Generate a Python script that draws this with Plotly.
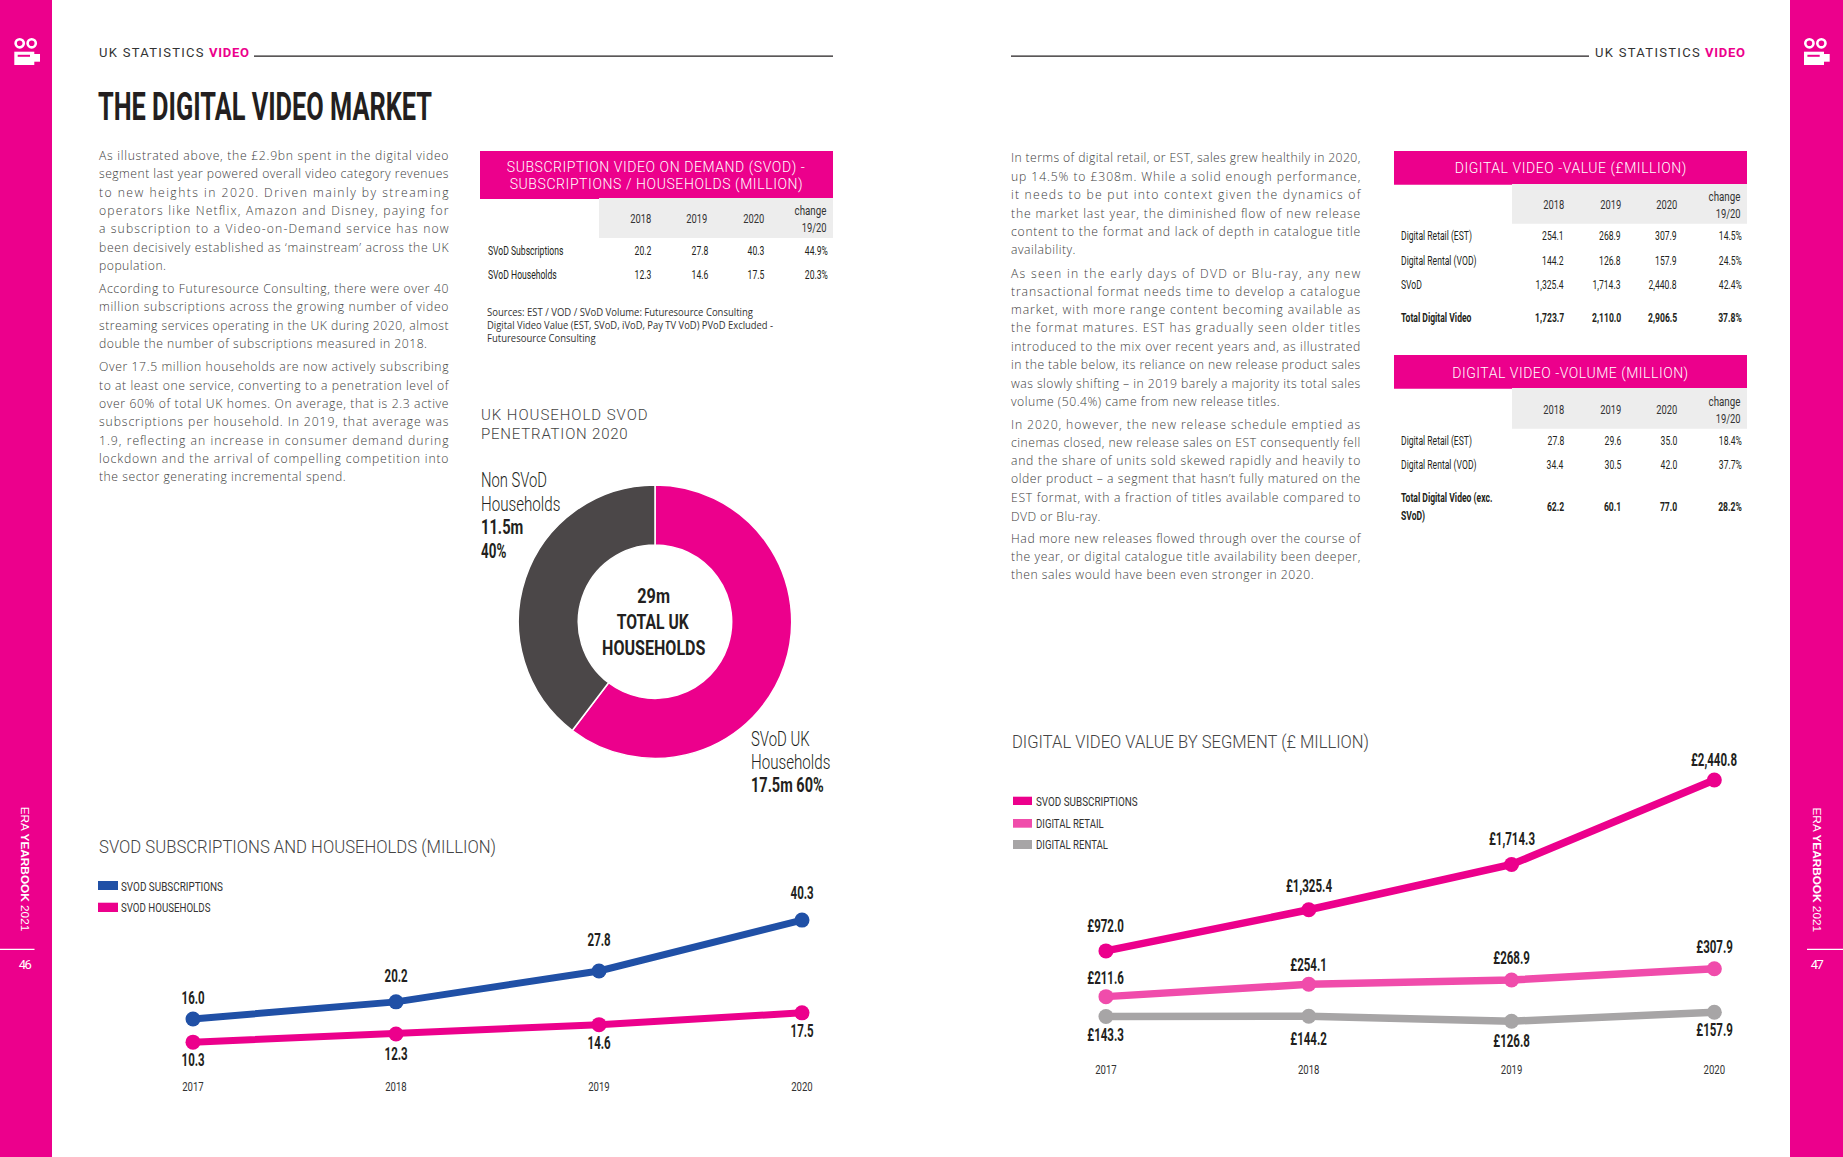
import json
import plotly.graph_objects as go

# ---------- data ----------
YEARS = [2017, 2018, 2019, 2020]
SVOD_SUBS = [16.0, 20.2, 27.8, 40.3]
SVOD_HH = [10.3, 12.3, 14.6, 17.5]
VAL_SVOD = [972.0, 1325.4, 1714.3, 2440.8]
VAL_RETAIL = [211.6, 254.1, 268.9, 307.9]
VAL_RENTAL = [143.3, 144.2, 126.8, 157.9]
PIE_LABELS = ["SVoD UK Households", "Non SVoD Households"]
PIE_VALUES = [17.5, 11.5]

T1_TITLE = ["SUBSCRIPTION VIDEO ON DEMAND (SVOD) -", "SUBSCRIPTIONS / HOUSEHOLDS (MILLION)"]
T1_ROWS = [["SVoD Subscriptions", "20.2", "27.8", "40.3", "44.9%"],
           ["SVoD Households", "12.3", "14.6", "17.5", "20.3%"]]
T2_TITLE = "DIGITAL VIDEO -VALUE (£MILLION)"
T2_ROWS = [["Digital Retail (EST)", "254.1", "268.9", "307.9", "14.5%"],
           ["Digital Rental (VOD)", "144.2", "126.8", "157.9", "24.5%"],
           ["SVoD", "1,325.4", "1,714.3", "2,440.8", "42.4%"],
           ["Total Digital Video", "1,723.7", "2,110.0", "2,906.5", "37.8%"]]
T3_TITLE = "DIGITAL VIDEO -VOLUME (MILLION)"
T3_ROWS = [["Digital Retail (EST)", "27.8", "29.6", "35.0", "18.4%"],
           ["Digital Rental (VOD)", "34.4", "30.5", "42.0", "37.7%"],
           ["Total Digital Video (exc.", "62.2", "60.1", "77.0", "28.2%"]]
T3_EXTRA = "SVoD)"
TABLE_HEAD = ["2018", "2019", "2020"]
SOURCES = ["Sources: EST / VOD / SVoD Volume: Futuresource Consulting",
           "Digital Video Value (EST, SVoD, iVoD, Pay TV VoD) PVoD Excluded -",
           "Futuresource Consulting"]

LEFT_TEXT = ["As illustrated above, the £2.9bn spent in the digital video",
             "segment last year powered overall video category revenues",
             "to new heights in 2020. Driven mainly by streaming",
             "operators like Netflix, Amazon and Disney, paying for",
             "a subscription to a Video-on-Demand service has now",
             "been decisively established as ‘mainstream’ across the UK",
             "population.",
             "According to Futuresource Consulting, there were over 40",
             "million subscriptions across the growing number of video",
             "streaming services operating in the UK during 2020, almost",
             "double the number of subscriptions measured in 2018.",
             "Over 17.5 million households are now actively subscribing",
             "to at least one service, converting to a penetration level of",
             "over 60% of total UK homes. On average, that is 2.3 active",
             "subscriptions per household. In 2019, that average was",
             "1.9, reflecting an increase in consumer demand during",
             "lockdown and the arrival of compelling competition into",
             "the sector generating incremental spend."]
LEFT_Y = [154.7, 172.7, 191.7, 209.7, 227.7, 246.7, 264.7, 287.7, 305.7, 324.7, 342.7,
          365.7, 384.7, 402.7, 420.7, 439.7, 457.7, 475.7]
LEFT_SHORT = {6: 67, 10: 328, 17: 246.6}
RIGHT_TEXT = ["In terms of digital retail, or EST, sales grew healthily in 2020,",
              "up 14.5% to £308m. While a solid enough performance,",
              "it needs to be put into context given the dynamics of",
              "the market last year, the diminished flow of new release",
              "content to the format and lack of depth in catalogue title",
              "availability.",
              "As seen in the early days of DVD or Blu-ray, any new",
              "transactional format needs time to develop a catalogue",
              "market, with more range content becoming available as",
              "the format matures. EST has gradually seen older titles",
              "introduced to the mix over recent years and, as illustrated",
              "in the table below, its reliance on new release product sales",
              "was slowly shifting – in 2019 barely a majority its total sales",
              "volume (50.4%) came from new release titles.",
              "In 2020, however, the new release schedule emptied as",
              "cinemas closed, new release sales on EST consequently fell",
              "and the share of units sold skewed rapidly and heavily to",
              "older product – a segment that hasn’t fully matured on the",
              "EST format, with a fraction of titles available compared to",
              "DVD or Blu-ray.",
              "Had more new releases flowed through over the course of",
              "the year, or digital catalogue title availability been deeper,",
              "then sales would have been even stronger in 2020."]
RIGHT_Y = [157.3, 175.7, 194.3, 212.7, 230.7, 249.3, 272.7, 290.7, 308.7, 327.3, 345.7, 363.7,
           382.7, 400.7, 423.7, 441.7, 460.3, 478.3, 496.7, 515.7, 538.3, 556.3, 574.3]
RIGHT_SHORT = {5: 64.5, 13: 268.6, 19: 89.5, 22: 302.6}

# ---------- style ----------
W, H = 1843, 1157
PINK = "#EC008C"
PINK2 = "#F04CAB"
BLUE = "#2050A6"
GREY = "#A7A5A6"
DARK = "#231F20"
DONUT_DARK = "#4B4748"
NARROW = "Roboto"
BODY = "Open Sans"
DIN = "Roboto"

def px(x): return x / W
def py(y): return 1 - (y + 0.5) / H

annos, shapes, fits = [], [], {}

def txt(x, y, s, size=13, color=DARK, font=NARROW, anchor="left", weight=400, w=None, k=None,
        squeeze=True, xref="paper", yref="paper", yshift=0, angle=0):
    if xref == "paper":
        x = x - 0.8 if anchor == "left" else x + 1.3 if anchor == "right" else x
    a = dict(text=s, x=px(x) if xref == "paper" else x, y=py(y) if yref == "paper" else y,
             xref=xref, yref=yref, xanchor=anchor, yanchor="middle", align=anchor, yshift=yshift,
             showarrow=False, borderpad=0, textangle=angle,
             font=dict(size=size, color=color, family=font, weight=weight))
    annos.append(a)
    if w is not None or k is not None:
        fits[len(annos) - 1] = dict(w=w, k=k, m="spacingAndGlyphs" if squeeze else "spacing")

def rect(x0, y0, x1, y1, fill, line=None, lw=0, kind="rect"):
    shapes.append(dict(type=kind, xref="paper", yref="paper", x0=x0 / W, x1=x1 / W, y0=1 - y0 / H, y1=1 - y1 / H,
                       fillcolor=fill, line=dict(color=line or fill, width=lw), layer="below"))

# ---------- page furniture ----------
rect(0, 0, 52, H, PINK)
rect(1790, 0, W, H, PINK)
rect(254, 55.5, 833, 56.7, DARK)
rect(1011, 55.5, 1589, 56.7, DARK)

def icon(dx):
    for cx in (19.7, 31.7):
        rect(cx + dx - 4.1, 39.2, cx + dx + 4.1, 47.4, PINK, "#FFFFFF", 2.6, "circle")
    rect(14.3 + dx, 51.7, 34.3 + dx, 65, "#FFFFFF")
    rect(34 + dx, 54, 40 + dx, 61.7, "#FFFFFF")
    rect(17.7 + dx, 54.8, 30 + dx, 56.8, PINK)
icon(0)
icon(1789.7)

txt(99, 52, "UK STATISTICS", 13, "#333333", DIN, w=104.5, squeeze=False)
txt(209, 52, "VIDEO", 13, PINK, DIN, weight=700, w=40, squeeze=False)
txt(1594.3, 52.3, "UK STATISTICS", 13, "#333333", DIN, w=104.7, squeeze=False)
txt(1704.3, 52.3, "VIDEO", 13, PINK, DIN, weight=700, w=40, squeeze=False)
txt(98, 107, "THE DIGITAL VIDEO MARKET", 39, DARK, NARROW, weight=700, w=334)

for cx, num in ((25.8, "46"), (1817, "47")):
    txt(cx, 869, "ERA <b>YEARBOOK</b> 2021", 11.8, "#FFFFFF", "Liberation Sans", anchor="center", angle=90)
    txt(cx, 964, num, 13, "#FFFFFF", DIN, anchor="center", w=13, squeeze=False)
rect(0, 948.8, 34.5, 950, "#FFFFFF")
rect(1807, 948.8, 1843, 950, "#FFFFFF")

# ---------- body copy ----------
for i, (s, y) in enumerate(zip(LEFT_TEXT, LEFT_Y)):
    txt(99, y, s, 12.2, "#3C3C3C", BODY, weight=300, w=LEFT_SHORT.get(i, 349.5), squeeze=False)
for i, (s, y) in enumerate(zip(RIGHT_TEXT, RIGHT_Y)):
    txt(1010.7, y, s, 12.2, "#3C3C3C", BODY, weight=300, w=RIGHT_SHORT.get(i, 349.3), squeeze=False)

# ---------- tables ----------
def table_head(gx0, gx1, gy0, gy1, year_edges, ch_edge, y_year, y_ch1, y_ch2):
    rect(gx0, gy0, gx1, gy1, "#EDEDED")
    for lab, e in zip(TABLE_HEAD, year_edges):
        txt(e, y_year, lab, 13, "#333333", NARROW, anchor="right", k=.72)
    txt(ch_edge, y_ch1, "change", 13, "#333333", NARROW, anchor="right", k=.75)
    txt(ch_edge, y_ch2, "19/20", 13, "#333333", NARROW, anchor="right", k=.72)

def table_row(row, lx, edges, y, bold=False, ky=None):
    wt = 700 if bold else 400
    txt(lx, y, row[0], 13, DARK, NARROW, weight=wt, k=.66)
    for v, e in zip(row[1:], edges):
        txt(e, ky if ky else y, v, 13, DARK, NARROW, anchor="right", weight=wt, k=.66)

# table 1
rect(480, 151, 833, 199, PINK)
txt(655.5, 167, T1_TITLE[0], 14, "#FFFFFF", DIN, anchor="center", weight=300, w=298, squeeze=False)
txt(655.5, 184.5, T1_TITLE[1], 14, "#FFFFFF", DIN, anchor="center", weight=300, w=293, squeeze=False)
table_head(599, 833, 198, 238, [650.6, 706.5, 763.6], 827, 218, 209.7, 227)
for r, y in zip(T1_ROWS, [250, 274]):
    table_row(r, 487.7, [651, 707.6, 764, 827.8], y)
for s, y, w in zip(SOURCES, [311.7, 324.7, 337.7], [266, 286, 108.6]):
    txt(487, y, s, 10.5, "#333333", BODY, w=w)

# table 2
RE = [1563.7, 1620.3, 1677, 1741.3]
rect(1394, 151, 1747, 184.7, PINK)
txt(1570, 168, T2_TITLE, 14, "#FFFFFF", DIN, anchor="center", weight=300, w=231.7, squeeze=False)
table_head(1512, 1747, 184, 223.7, RE[:3], 1741, 204, 195.7, 213)
for i, (r, y) in enumerate(zip(T2_ROWS, [235, 260, 284.3, 317])):
    table_row(r, 1401, RE, y, bold=i == 3)

# table 3
rect(1394, 355, 1747, 388.7, PINK)
txt(1570, 372.7, T3_TITLE, 14, "#FFFFFF", DIN, anchor="center", weight=300, w=236, squeeze=False)
table_head(1512, 1747, 388, 428.7, RE[:3], 1741, 409, 400.7, 418)
table_row(T3_ROWS[0], 1401, RE, 440)
table_row(T3_ROWS[1], 1401, RE, 464)
table_row(T3_ROWS[2], 1401, RE, 497.3, bold=True, ky=506)
txt(1401, 515.3, T3_EXTRA, 13, DARK, NARROW, weight=700, k=.66)

# ---------- donut ----------
txt(481, 415, "UK HOUSEHOLD SVOD", 15, "#444444", DIN, weight=300, w=166.7, squeeze=False)
txt(481, 433, "PENETRATION 2020", 15, "#444444", DIN, weight=300, w=146.7, squeeze=False)
for s, y, w, b in (("Non SVoD", 480, 66, 300), ("Households", 504, 79.3, 300),
                   ("11.5m", 526.7, 42.3, 700), ("40%", 550.7, 25.3, 700)):
    txt(481, y, s, 19.5, DARK, NARROW, weight=b, w=w)
for s, y, w, b in (("SVoD UK", 739.3, 58.7, 300), ("Households", 762.3, 79.3, 300),
                   ("17.5m 60%", 785, 72.7, 700)):
    txt(750.7, y, s, 19.5, DARK, NARROW, weight=b, w=w)
for s, y, w in (("29m", 596, 32.7), ("TOTAL UK", 622, 72), ("HOUSEHOLDS", 647.7, 103.3)):
    txt(653.3, y, s, 19.5, DARK, NARROW, anchor="center", weight=700, w=w)

fig = go.Figure()
CX, CY, R = 655, 621.7, 136.7
fig.add_trace(go.Pie(labels=PIE_LABELS, values=PIE_VALUES, hole=76.7 / 136.7, sort=False,
                     direction="clockwise", rotation=0, textinfo="none", hoverinfo="skip", showlegend=False,
                     marker=dict(colors=[PINK, DONUT_DARK], line=dict(color="#FFFFFF", width=1.5)),
                     domain=dict(x=[(CX - R) / W, (CX + R) / W], y=[1 - (CY + R) / H, 1 - (CY - R) / H])))

# ---------- line charts ----------
def line(x, y, color, xa, ya, width, msize):
    fig.add_trace(go.Scatter(x=x, y=y, mode="lines+markers", xaxis=xa, yaxis=ya, showlegend=False,
                             hoverinfo="skip", cliponaxis=False,
                             line=dict(color=color, width=width), marker=dict(color=color, size=msize)))

def labels(xs, ys, shifts, xa, ya, fmt):
    for x, v, s in zip(xs, ys, shifts):
        txt(x, v, fmt(v), 18, DARK, NARROW, anchor="center", weight=700, k=.64,
            xref=xa, yref=ya, yshift=s + 1)

line(YEARS, SVOD_SUBS, BLUE, "x", "y", 7, 15)
line(YEARS, SVOD_HH, PINK, "x", "y", 7, 15)
line(YEARS, VAL_RENTAL, GREY, "x2", "y3", 7.5, 15)
line(YEARS, VAL_RETAIL, PINK2, "x2", "y3", 7.5, 15)
line(YEARS, VAL_SVOD, PINK, "x2", "y2", 7.5, 15)

f1 = lambda v: f"{v:.1f}"
f2 = lambda v: f"£{v:,.1f}"
labels(YEARS, SVOD_SUBS, [20, 25.7, 30.7, 26.7], "x", "y", f1)
labels(YEARS, SVOD_HH, [-18, -20.3, -19.3, -18.4], "x", "y", f1)
labels(YEARS, VAL_SVOD, [24, 23, 25, 19.4], "x2", "y2", f2)
labels(YEARS, VAL_RETAIL, [17.7, 19, 21.7, 21.7], "x2", "y3", f2)
labels(YEARS, VAL_RENTAL, [-19.3, -23, -20.3, -18.7], "x2", "y3", f2)

txt(99, 846, "SVOD SUBSCRIPTIONS AND HOUSEHOLDS (MILLION)", 18, "#444444", DIN, weight=300, w=397)
txt(1011.8, 741, "DIGITAL VIDEO VALUE BY SEGMENT (£ MILLION)", 18, "#444444", DIN, weight=300, w=357)
for color, s, y, y0, y1, w in ((BLUE, "SVOD SUBSCRIPTIONS", 886, 881, 890, 102),
                               (PINK, "SVOD HOUSEHOLDS", 907, 902.7, 912, 89.4)):
    rect(98, y0, 118, y1, color)
    txt(121, y, s, 13, "#333333", NARROW, w=w)
for color, s, y, y0, y1, w in ((PINK, "SVOD SUBSCRIPTIONS", 801, 796.7, 805, 101.6),
                               (PINK2, "DIGITAL RETAIL", 823.3, 819, 827.7, 67.7),
                               (GREY, "DIGITAL RENTAL", 844, 840, 849, 72)):
    rect(1013, y0, 1032, y1, color)
    txt(1035.5, y, s, 13, "#333333", NARROW, w=w)

hidden_y = dict(visible=False, showgrid=False, zeroline=False, fixedrange=True)
def xaxis(dom, anchor):
    return dict(domain=dom, range=[2016.8, 2020.2], anchor=anchor, tickvals=YEARS, tickformat="d", ticks="",
                showline=False, showgrid=False, zeroline=False, fixedrange=True,
                tickfont=dict(family=NARROW, size=13, color="#333333"))

fig.update_layout(
    width=W, height=H, margin=dict(l=0, r=0, t=0, b=0), autosize=False,
    paper_bgcolor="#FFFFFF", plot_bgcolor="rgba(0,0,0,0)", hovermode=False, showlegend=False,
    annotations=annos, shapes=shapes,
    xaxis=xaxis([152.4 / W, 842.6 / W], "y"),
    yaxis=dict(domain=[1 - 1077 / H, 1 - 880.6 / H], range=[1.74, 50], **hidden_y),
    xaxis2=xaxis([1065.4 / W, 1754.9 / W], "y2"),
    yaxis2=dict(domain=[1 - 1060 / H, 1 - 770 / H], range=[34.4, 2526.6], **hidden_y),
    yaxis3=dict(domain=[1 - 1060 / H, 1 - 770 / H], range=[-6.9, 993.1], anchor="x2", overlaying="y2", **hidden_y),
)

POST = """
document.body.style.margin='0';
document.documentElement.style.overflow='hidden';
(function(){
  var gd=document.getElementById('{plot_id}');
  var fits=%s;
  function apply(){
    Object.keys(fits).forEach(function(i){
      var t=gd.querySelector('g.annotation[data-index="'+i+'"] text.annotation-text');
      if(!t||t.dataset.fit)return;
      var f=fits[i],L=t.getComputedTextLength();
      var w=f.w?f.w:L*f.k;
      t.setAttribute('textLength',w);
      t.setAttribute('lengthAdjust',f.m);
      t.dataset.fit='1';
    });
    gd.querySelectorAll('.xtick text, .x2tick text').forEach(function(t){
      if(t.dataset.fit)return;
      t.setAttribute('textLength',21.5);
      t.setAttribute('lengthAdjust','spacingAndGlyphs');
      t.dataset.fit='1';
    });
  }
  apply();
  requestAnimationFrame(apply);
  setTimeout(apply,200);
})();
""" % json.dumps(fits)

fig.write_html("out.html", config={"displayModeBar": False, "staticPlot": True}, post_script=POST)
